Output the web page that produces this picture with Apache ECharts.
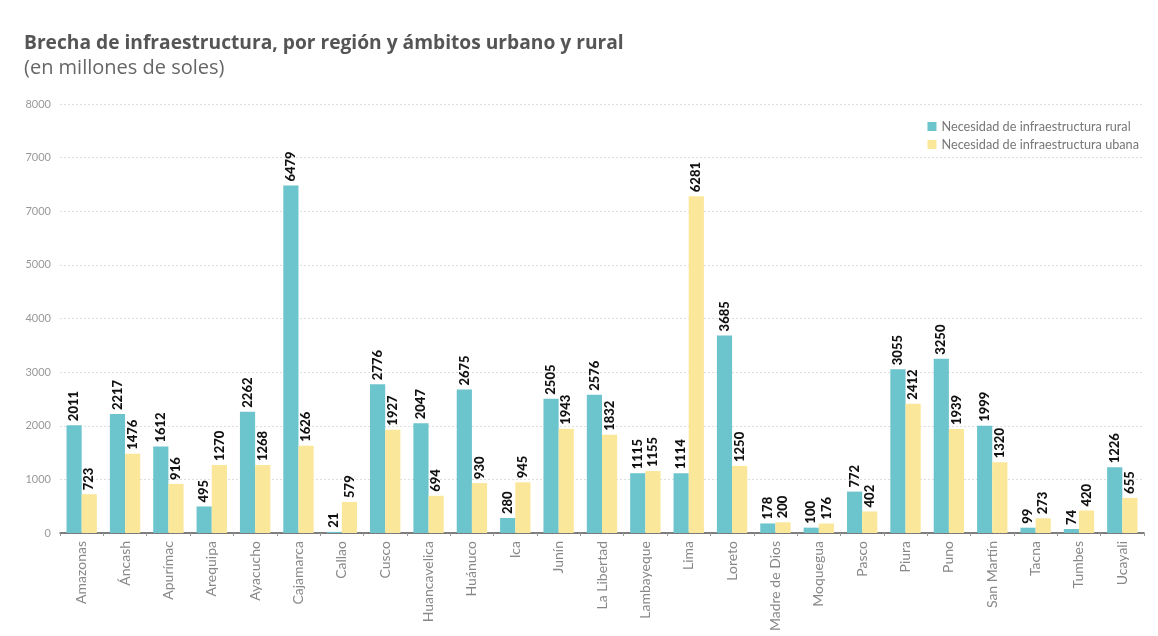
<!DOCTYPE html>
<html><head><meta charset="utf-8">
<script src="https://cdn.jsdelivr.net/npm/echarts@6/dist/echarts.min.js"></script>
<style>html,body{margin:0;padding:0;background:#fff}#c{width:1158px;height:636px}</style>
</head><body><div id="c"></div>
<script>
const categories = ['Amazonas','Áncash','Apurímac','Arequipa','Ayacucho','Cajamarca','Callao','Cusco','Huancavelica','Huánuco','Ica','Junín','La Libertad','Lambayeque','Lima','Loreto','Madre de Dios','Moquegua','Pasco','Piura','Puno','San Martín','Tacna','Tumbes','Ucayali'];
const rural = [2011,2217,1612,495,2262,6479,21,2776,2047,2675,280,2505,2576,1115,1114,3685,178,100,772,3055,3250,1999,99,74,1226];
const urbana = [723,1476,916,1270,1268,1626,579,1927,694,930,945,1943,1832,1155,6281,1250,200,176,402,2412,1939,1320,273,420,655];
const yTickLabels = ['0','1000','2000','3000','4000','5000','7000','7000','8000'];
const seriesNames = ['Necesidad de infraestructura rural','Necesidad de infraestructura ubana'];

const chart = echarts.init(document.getElementById('c'));
const FONT = 'Lato, "Open Sans", sans-serif';
const TFONT = '"Open Sans", Lato, sans-serif';
const lbl = {
  show: true, position: 'top', rotate: 90, align: 'left', verticalAlign: 'middle',
  distance: 4, color: '#111', fontWeight: 900, fontSize: 13, fontFamily: FONT
};
chart.setOption({
  animation: false,
  title: [
    {text: 'Brecha de infraestructura, por región y ámbitos urbano y rural', left: 19, top: 29,
     textStyle: {fontSize: 19.2, fontWeight: 'bold', color: '#555', fontFamily: TFONT}},
    {text: '(en millones de soles)', left: 19, top: 53,
     textStyle: {fontSize: 20, fontWeight: 'normal', color: '#666', fontFamily: TFONT}}
  ],
  legend: {
    orient: 'vertical', right: 14, top: 115, itemWidth: 9, itemHeight: 9, itemGap: 5,
    icon: 'rect', textStyle: {fontSize: 12.7, color: '#777', fontFamily: FONT},
    data: seriesNames
  },
  grid: {left: 60, right: 14, top: 104, bottom: 103, containLabel: false},
  xAxis: {
    type: 'category', data: categories,
    axisLine: {lineStyle: {color: '#555', width: 1.5}},
    axisTick: {show: true, length: 3, lineStyle: {color: '#999'}},
    axisLabel: {rotate: 90, color: '#888', fontSize: 14, fontFamily: FONT, margin: 8, interval: 0}
  },
  yAxis: {
    type: 'value', min: 0, max: 8000, interval: 1000,
    axisLine: {show: false}, axisTick: {show: false},
    splitLine: {lineStyle: {color: '#ddd', type: [2, 2]}},
    axisLabel: {color: '#999', fontSize: 11, fontFamily: FONT, margin: 9,
      formatter: (v) => yTickLabels[Math.round(v / 1000)]}
  },
  series: [
    {name: seriesNames[0], type: 'bar', data: rural, barGap: '0%', barCategoryGap: '30%',
     itemStyle: {color: '#6CC4CD'}, label: lbl},
    {name: seriesNames[1], type: 'bar', data: urbana,
     itemStyle: {color: '#FBE799'}, label: lbl}
  ]
});
</script></body></html>
